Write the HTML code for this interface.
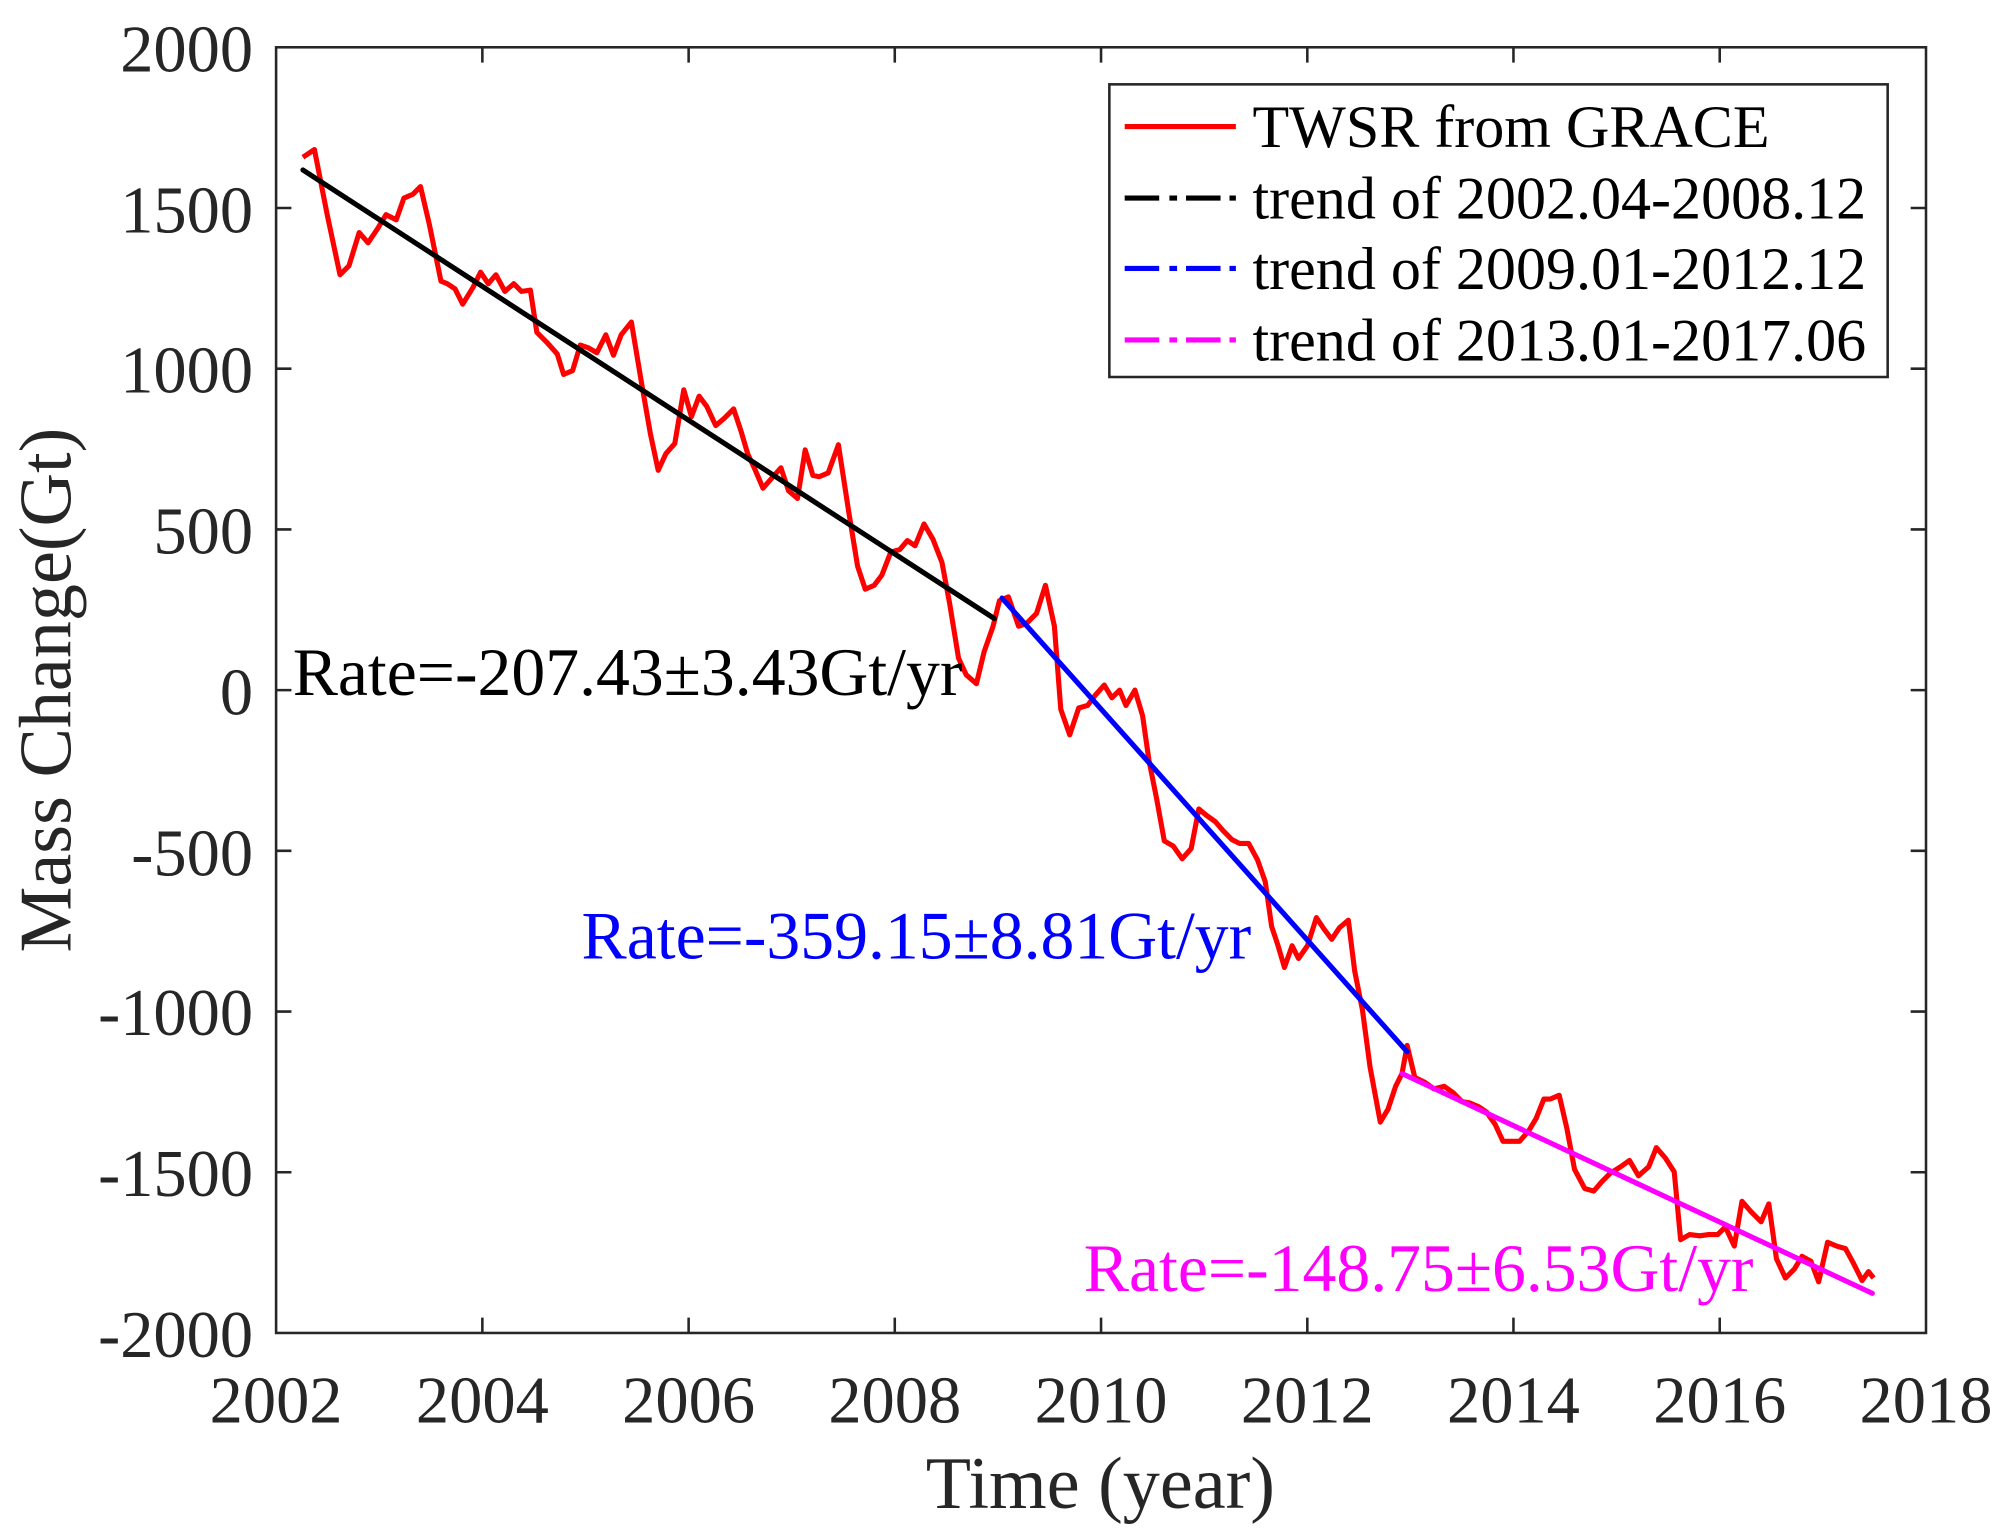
<!DOCTYPE html>
<html><head><meta charset="utf-8"><style>
html,body{margin:0;padding:0;background:#fff;}
svg{display:block;}
text{font-family:"Liberation Serif",serif;}
</style></head><body>
<svg width="2004" height="1540" viewBox="0 0 1568 1205" xmlns="http://www.w3.org/2000/svg">
<rect width="1568" height="1205" fill="#fff"/>
<g stroke="#262626" stroke-width="2" fill="none">
<rect x="216" y="37" width="1291" height="1006"/>
<path d="M377.4,1043v-12M538.8,1043v-12M700.1,1043v-12M861.5,1043v-12M1022.9,1043v-12M1184.2,1043v-12M1345.6,1043v-12
M377.4,37v12M538.8,37v12M700.1,37v12M861.5,37v12M1022.9,37v12M1184.2,37v12M1345.6,37v12
M216,162.75h12M216,288.5h12M216,414.25h12M216,540h12M216,665.75h12M216,791.5h12M216,917.25h12
M1507,162.75h-12M1507,288.5h-12M1507,414.25h-12M1507,540h-12M1507,665.75h-12M1507,791.5h-12M1507,917.25h-12"/>
</g>
<g font-size="52" fill="#262626" text-anchor="end">
<text x="198" y="56">2000</text><text x="198" y="182">1500</text><text x="198" y="307">1000</text>
<text x="198" y="433">500</text><text x="198" y="559">0</text><text x="198" y="685">-500</text>
<text x="198" y="810">-1000</text><text x="198" y="936">-1500</text><text x="198" y="1062">-2000</text>
</g>
<g font-size="52" fill="#262626" text-anchor="middle">
<text x="216" y="1113">2002</text><text x="377.4" y="1113">2004</text><text x="538.8" y="1113">2006</text>
<text x="700.1" y="1113">2008</text><text x="861.5" y="1113">2010</text><text x="1022.9" y="1113">2012</text>
<text x="1184.2" y="1113">2014</text><text x="1345.6" y="1113">2016</text><text x="1507" y="1113">2018</text>
<text x="861" y="1180" font-size="58">Time (year)</text>
<text transform="translate(55,540) rotate(-90)" font-size="58">Mass Change(Gt)</text>
</g>
<polyline fill="none" stroke="#ff0000" stroke-width="4" stroke-linejoin="round" points="237,123 246,117 256,168 266,215 273,208 281,182 288,190 296,178 302,168 310,172 316,155 323,152 329,146 336,176 345,220 350,222 356,226 362,238 370,225 376,213 382,222 388,215 395,228 402,222 408,228 415,227 420,260 428,268 436,277 441,293 448,290 454,270 460,272 467,276 474,262 480,278 486,262 494,252 502,300 509,340 515,368 521,355 528,347 535,305 541,326 547,310 553,318 560,333 567,327 574,320 580,338 585,355 591,368 597,382 604,374 611,366 617,384 624,390 630,352 636,372 641,373 648,370 656,348 664,400 671,443 677,461 684,458 690,450 697,432 704,430 710,423 716,427 723,410 730,422 737,440 743,472 750,515 756,528 764,535 770,510 777,490 782,470 789,467 797,490 803,488 811,480 818,458 825,490 830,555 837,575 844,554 851,552 857,544 864,536 870,546 876,540 881,552 888,540 894,560 899,595 905,625 911,658 918,662 925,672 932,664 938,633 944,638 951,643 957,650 964,657 970,660 977,660 984,673 990,690 995,725 1000,740 1005,757 1011,740 1016,750 1023,740 1030,718 1036,727 1042,735 1048,726 1055,720 1060,760 1066,790 1072,835 1080,878 1086,868 1092,850 1097,840 1101,818 1107,843 1115,847 1122,852 1130,850 1137,855 1144,862 1150,863 1157,866 1163,870 1170,880 1176,893 1182,893 1189,893 1196,885 1202,875 1208,860 1213,860 1220,857 1226,883 1232,915 1240,930 1247,932 1253,925 1260,918 1268,913 1275,908 1282,920 1290,913 1296,898 1303,906 1310,917 1315,970 1322,966 1330,967 1337,966 1344,966 1350,960 1357,975 1363,940 1370,948 1378,956 1384,942 1390,985 1397,1000 1404,993 1410,983 1417,987 1423,1003 1430,972 1437,975 1444,977 1450,988 1457,1002 1462,995 1466,1000"/>
<g stroke-width="4" stroke-linecap="round">
<line x1="237" y1="133" x2="778" y2="484" stroke="#000"/>
<line x1="784" y1="468" x2="1101" y2="823" stroke="#0000ff"/>
<line x1="1097" y1="840" x2="1465" y2="1012" stroke="#ff00ff"/>
</g>
<text x="229" y="544" font-size="53" fill="#000">Rate=-207.43±3.43Gt/yr</text>
<text x="455" y="750" font-size="53" fill="#0000ff">Rate=-359.15±8.81Gt/yr</text>
<text x="848" y="1010" font-size="53" fill="#ff00ff">Rate=-148.75±6.53Gt/yr</text>
<rect x="868" y="66" width="609" height="229" fill="#fff" stroke="#262626" stroke-width="2"/>
<g stroke-width="4">
<line x1="880" y1="99" x2="967" y2="99" stroke="#ff0000"/>
<path d="M880,155h27M915,155h6M928,155h27M962,155h5" stroke="#000"/>
<path d="M880,210h27M915,210h6M928,210h27M962,210h5" stroke="#0000ff"/>
<path d="M880,266h27M915,266h6M928,266h27M962,266h5" stroke="#ff00ff"/>
</g>
<g font-size="47" fill="#000">
<text x="980" y="115">TWSR from GRACE</text>
<text x="980" y="171">trend of 2002.04-2008.12</text>
<text x="980" y="226">trend of 2009.01-2012.12</text>
<text x="980" y="282">trend of 2013.01-2017.06</text>
</g>
</svg>
</body></html>
